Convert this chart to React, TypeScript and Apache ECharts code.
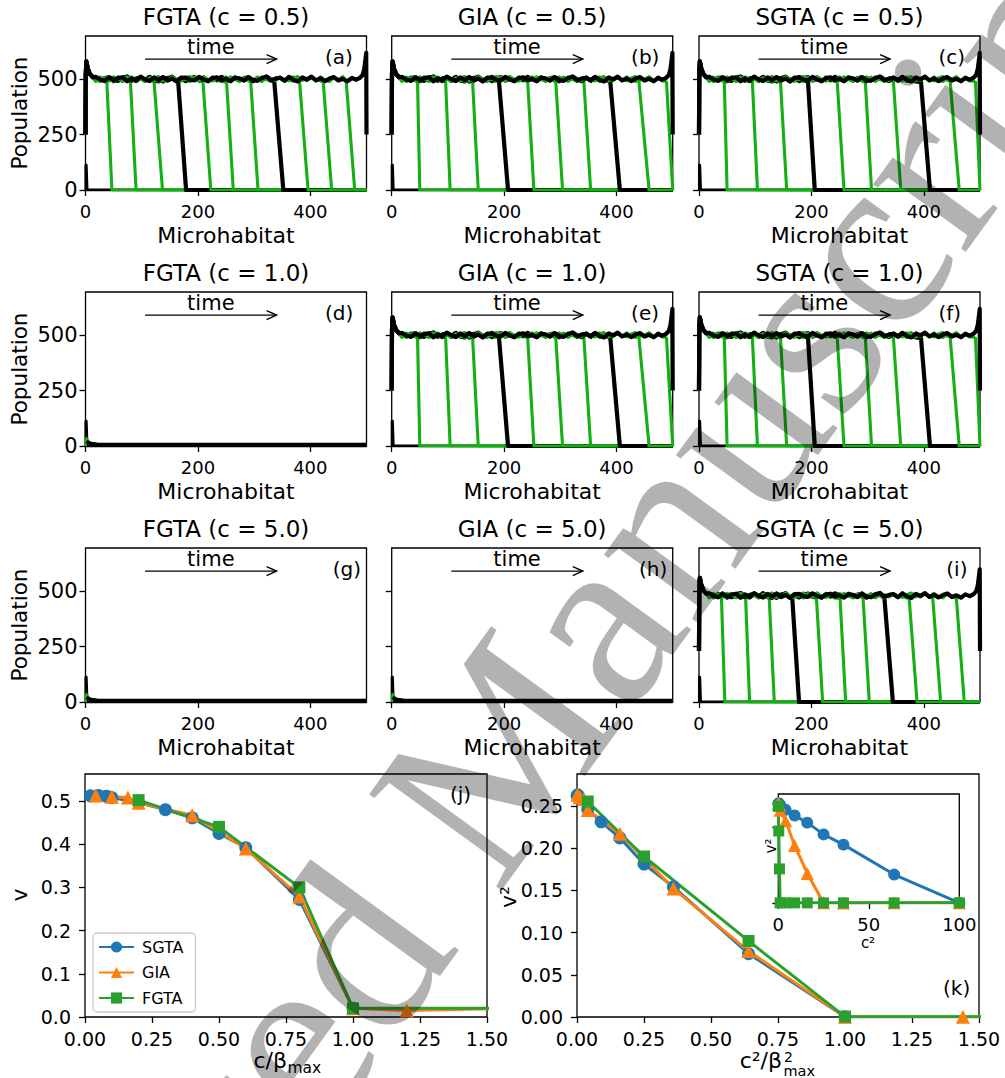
import React, { useEffect, useRef } from 'react';
import * as echarts from 'echarts';

const FONT = 'DejaVu Sans';
const SERIF = 'Liberation Serif';
const BLACK = '#000000';
const WAVE_GREEN = '#13b013';
const C_SGTA = '#1f77b4';
const C_GIA = '#ff7f0e';
const C_FGTA = '#2ca02c';

// ---------- small panels (a)-(i) ----------
const panelTitles = [
  'FGTA (c = 0.5)', 'GIA (c = 0.5)', 'SGTA (c = 0.5)',
  'FGTA (c = 1.0)', 'GIA (c = 1.0)', 'SGTA (c = 1.0)',
  'FGTA (c = 5.0)', 'GIA (c = 5.0)', 'SGTA (c = 5.0)',
];
const panelLetters = ['(a)', '(b)', '(c)', '(d)', '(e)', '(f)', '(g)', '(h)', '(i)'];
const microTicks = [0, 200, 400];
const populationTicks = [0, 250, 500];
const microMax = 500;
const populationMax = 694;

// wave fronts: [x at top of front, x at bottom of front]
const frontsA = [[38, 47], [80, 90], [122, 137], [165, 179], [209, 223], [251, 263], [294, 307], [336, 352], [381, 396], [423, 438], [464, 479]];
const frontsB = [[46, 50], [96, 104], [144, 154], [191, 207], [242, 253], [292, 304], [342, 354], [389, 406], [440, 458], [489, 500]];
const frontsC = [[45, 50], [95, 104], [145, 156], [194, 206], [246, 258], [296, 307], [346, 359], [395, 411], [447, 463], [492, 500]];
const frontsE = [[46, 50], [96, 104], [144, 154], [191, 207], [242, 253], [292, 304], [342, 354], [389, 406], [440, 458], [489, 500]];
const frontsF = [[45, 50], [95, 104], [145, 156], [194, 206], [246, 258], [296, 307], [346, 359], [395, 411], [447, 463], [492, 500]];
const frontsI = [[40, 46], [83, 90], [125, 134], [166, 178], [209, 220], [251, 261], [292, 303], [330, 345], [374, 388], [416, 430], [458, 472]];
const panelFronts = [frontsA, frontsB, frontsC, null, frontsE, frontsF, null, null, frontsI];
const plateauLevels = [500, 500, 500, 0, 500, 500, 0, 0, 480];

const plateauX = [
  18, 26, 34, 42, 50, 58, 66, 74, 82, 90, 98, 106, 114, 122, 130, 138, 146, 154, 162, 170,
  178, 186, 194, 202, 210, 218, 226, 234, 242, 250, 258, 266, 274, 282, 290, 298, 306, 314, 322, 330,
  338, 346, 354, 362, 370, 378, 386, 394, 402, 410, 418, 426, 434, 442, 450, 458, 466, 474, 482,
];
const plateauWiggle = [
  6, -8, 10, -4, -11, 7, -2, 11, -6, 3, -9, 2, 9, -7, 1, -10, 5, -3, 10, -2,
  -8, 7, -5, 4, 8, -10, 3, -6, 11, -1, -9, 6, -4, 9, -7, 2, -11, 5, 7, -3,
  -6, 10, -2, -9, 4, 8, -5, 1, -10, 6, 3, -7, 9, -4, -8, 5, 11, -6, 2,
];
const leftEdgeProfile = [[0, 250], [0.5, 520], [1.5, 580], [4, 548], [8, 522], [13, 508]];
const rightEdgeGreen = [[488, 504], [493, 515], [496, 535], [498.5, 570], [500, 260]];
const rightEdgeBlack = [[488, 505], [493, 518], [496, 545], [498.5, 595], [499.5, 618], [500, 250]];
const initialSpike = [[1, 0], [1, 112], [2, 112], [2.5, 0], [500, 0]];
const extinctGreen = [[0.5, 0], [1.5, 36], [3, 30], [6, 18], [12, 11], [25, 8], [60, 6], [500, 6]];
const extinctBlack = [[2, 22], [5, 15], [10, 11], [20, 8], [50, 7], [500, 7]];

// annotation positions (data coords of the small panels)
const arrowFrom = [106, 590];
const arrowTo = [340, 590];
const timeLabelAt = [223, 645];
const letterAtRows12 = [426, 600];
const letterAtRow3 = [440, 600];

// ---------- bottom panels (j), (k) and inset ----------
const cValues = [0.2, 0.5, 0.8, 1, 2, 3, 4, 5, 6, 8, 10];
const sgtaBetaMax = 10;
const giaBetaMax = 5;
const fgtaBetaMax = 1;
const sgtaV = [0.512, 0.513, 0.511, 0.508, 0.496, 0.48, 0.461, 0.425, 0.392, 0.272, 0.02];
const giaV = [0.513, 0.51, 0.508, 0.496, 0.467, 0.39, 0.279, 0.02, 0.015, 0.02, 0.02];
const fgtaV = [0.502, 0.44, 0.3, 0.02, 0.02, 0.02, 0.02, 0.02, 0.02, 0.02, 0.02];
const sgtaV2 = [0.262, 0.263, 0.261, 0.258, 0.246, 0.231, 0.212, 0.181, 0.154, 0.075, 0.0004];
const giaV2 = [0.263, 0.26, 0.258, 0.245, 0.217, 0.152, 0.078, 0.0004, 0.0002, 0.0004, 0.0004];
const fgtaV2 = [0.255, 0.19, 0.09, 0.0004, 0.0004, 0.0004, 0.0004, 0.0004, 0.0004, 0.0004, 0.0004];
const jXTicks = [0, 0.25, 0.5, 0.75, 1, 1.25, 1.5];
const jYTicks = [0, 0.1, 0.2, 0.3, 0.4, 0.5];
const kYTicks = [0, 0.05, 0.1, 0.15, 0.2, 0.25];
const insetXTicks = [0, 50, 100];
const insetYTicks = [0, 0.2];

function plateauPoints(level: number, limit: number, k: number) {
  const pts: number[][] = leftEdgeProfile.map(([x, y]) => [x, y + level - 500]);
  plateauX.forEach((x, i) => {
    if (x < limit) pts.push([x, level + plateauWiggle[(i + k * 7) % plateauWiggle.length]]);
  });
  return pts;
}
function frontSnapshot(level: number, front: number[], k: number) {
  const pts = plateauPoints(level, front[0] - 4, k);
  pts.push([front[0], level - 14], [front[1], 0]);
  if (front[1] < microMax) pts.push([microMax, 0]);
  return pts;
}
function edgeSnapshot(level: number, edge: number[][], k: number) {
  const pts = plateauPoints(level, edge[0][0] - 2, k);
  edge.forEach(([x, y]) => pts.push([x, y + level - 500]));
  return pts;
}

function buildOption() {
  const grids: any[] = [];
  const xAxes: any[] = [];
  const yAxes: any[] = [];
  const series: any[] = [];
  const graphics: any[] = [];
  const colLeft = [85.5, 391.7, 699];
  const colW = 281;
  const rowTop = [36, 292, 548];
  const rowH = 154;
  const GREEN_W = 3.1;
  const BLACK_W = 4.2;

  const lineSeries = (data: number[][], color: string, width: number, gi: number) => ({
    type: 'line', xAxisIndex: gi, yAxisIndex: gi, data, showSymbol: false, symbol: 'none',
    lineStyle: { color, width, join: 'round' }, itemStyle: { color }, silent: true, clip: true, z: 2,
  });

  for (let p = 0; p < 9; p++) {
    const r = Math.floor(p / 3);
    const c = p % 3;
    grids.push({
      left: colLeft[c], top: rowTop[r], width: colW, height: rowH, show: true,
      borderColor: '#000', borderWidth: 1.3, backgroundColor: 'transparent',
      containLabel: false, outerBoundsMode: 'none',
    });
    xAxes.push({
      gridIndex: p, type: 'value', min: 0, max: microMax,
      name: 'Microhabitat', nameLocation: 'middle', nameGap: 34,
      nameTextStyle: { fontSize: 22, color: '#000', fontFamily: FONT },
      axisLine: { show: false },
      axisTick: { show: true, length: 6, lineStyle: { color: '#000', width: 1.3 }, customValues: microTicks },
      axisLabel: { show: true, customValues: microTicks, fontSize: 18, color: '#000', margin: 12, fontFamily: FONT, hideOverlap: false },
      splitLine: { show: false },
    });
    yAxes.push({
      gridIndex: p, type: 'value', min: 0, max: populationMax,
      axisLine: { show: false },
      axisTick: { show: true, length: 6, lineStyle: { color: '#000', width: 1.3 }, customValues: populationTicks },
      axisLabel: { show: c === 0, customValues: populationTicks, fontSize: 21, color: '#000', margin: 8, fontFamily: FONT, hideOverlap: false },
      splitLine: { show: false },
    });

    const fronts = panelFronts[p];
    const level = plateauLevels[p];
    series.push(lineSeries(initialSpike, BLACK, 3.2, p));
    if (fronts) {
      fronts.forEach((f, k) => {
        const isBlack = k % 4 === 3;
        series.push(lineSeries(frontSnapshot(level, f, k), isBlack ? BLACK : WAVE_GREEN, isBlack ? BLACK_W : GREEN_W, p));
      });
      for (let k = fronts.length; k <= 11; k++) {
        const isBlack = k % 4 === 3;
        series.push(lineSeries(edgeSnapshot(level, isBlack ? rightEdgeBlack : rightEdgeGreen, k), isBlack ? BLACK : WAVE_GREEN, isBlack ? BLACK_W : GREEN_W, p));
      }
    } else {
      series.push(lineSeries(extinctGreen, WAVE_GREEN, 2.4, p));
      series.push(lineSeries(extinctBlack, BLACK, 3.6, p));
    }

    const letterAt = r === 2 ? letterAtRow3 : letterAtRows12;
    const letter = panelLetters[p];
    series.push({
      type: 'custom', xAxisIndex: p, yAxisIndex: p, silent: true, clip: false, z: 5,
      data: [[arrowFrom[0], arrowFrom[1], arrowTo[0], arrowTo[1], timeLabelAt[0], timeLabelAt[1], letterAt[0], letterAt[1]]],
      renderItem: (params: any, api: any) => {
        const a = api.coord([api.value(0), api.value(1)]);
        const b = api.coord([api.value(2), api.value(3)]);
        const t = api.coord([api.value(4), api.value(5)]);
        const l = api.coord([api.value(6), api.value(7)]);
        return {
          type: 'group',
          children: [
            { type: 'line', shape: { x1: a[0], y1: a[1], x2: b[0], y2: b[1] }, style: { stroke: '#000', lineWidth: 1.4 } },
            { type: 'polyline', shape: { points: [[b[0] - 10, b[1] - 4.5], [b[0], b[1]], [b[0] - 10, b[1] + 4.5]] }, style: { stroke: '#000', lineWidth: 1.4, fill: 'none' } },
            { type: 'text', x: t[0], y: t[1], style: { text: 'time', fontSize: 21, fontFamily: FONT, fill: '#000', textAlign: 'center', textVerticalAlign: 'middle', align: 'center', verticalAlign: 'middle' } },
            { type: 'text', x: l[0], y: l[1], style: { text: letter, fontSize: 20, fontFamily: FONT, fill: '#000', textAlign: 'left', textVerticalAlign: 'middle', align: 'left', verticalAlign: 'middle' } },
          ],
        };
      },
    });

    graphics.push({
      type: 'text', x: colLeft[c] + colW / 2, y: rowTop[r] - 19,
      style: { text: panelTitles[p], fontSize: 23, fontFamily: FONT, fill: '#000', textAlign: 'center', textVerticalAlign: 'middle' },
    });
    if (c === 0) {
      graphics.push({
        type: 'text', x: 19, y: rowTop[r] + rowH / 2, rotation: Math.PI / 2,
        style: { text: 'Population', fontSize: 21.5, fontFamily: FONT, fill: '#000', textAlign: 'center', textVerticalAlign: 'middle' },
      });
    }
  }

  // bottom grids
  const gJ = 9, gK = 10, gI = 11;
  grids.push({ left: 85, top: 774, width: 402, height: 243, show: true, borderColor: '#000', borderWidth: 1.3, backgroundColor: 'transparent', containLabel: false, outerBoundsMode: 'none' });
  grids.push({ left: 577, top: 774, width: 402, height: 243, show: true, borderColor: '#000', borderWidth: 1.3, backgroundColor: 'transparent', containLabel: false, outerBoundsMode: 'none' });
  grids.push({ left: 778.3, top: 794, width: 181, height: 109, show: true, borderColor: '#000', borderWidth: 1.3, backgroundColor: '#ffffff', containLabel: false, outerBoundsMode: 'none' });

  const tick = (vals: number[]) => ({ show: true, length: 6, lineStyle: { color: '#000', width: 1.3 }, customValues: vals });
  const lab = (vals: number[], dec: number, size: number, margin: number, show = true) => ({
    show, customValues: vals, fontSize: size, color: '#000', margin, fontFamily: FONT, hideOverlap: false,
    formatter: (v: number) => (dec < 0 ? String(v) : v.toFixed(dec)),
  });
  xAxes.push({ gridIndex: gJ, type: 'value', min: 0, max: 1.5, axisLine: { show: false }, axisTick: tick(jXTicks), axisLabel: lab(jXTicks, 2, 19, 12), splitLine: { show: false } });
  yAxes.push({ gridIndex: gJ, type: 'value', min: 0, max: 0.5625, axisLine: { show: false }, axisTick: tick(jYTicks), axisLabel: lab(jYTicks, 1, 19, 14), splitLine: { show: false } });
  xAxes.push({ gridIndex: gK, type: 'value', min: 0, max: 1.5, axisLine: { show: false }, axisTick: tick(jXTicks), axisLabel: lab(jXTicks, 2, 19, 12), splitLine: { show: false } });
  yAxes.push({ gridIndex: gK, type: 'value', min: 0, max: 0.2876, axisLine: { show: false }, axisTick: tick(kYTicks), axisLabel: lab(kYTicks, 2, 19, 14), splitLine: { show: false } });
  xAxes.push({ gridIndex: gI, type: 'value', min: 0, max: 100, axisLine: { show: false }, axisTick: tick(insetXTicks), axisLabel: lab(insetXTicks, -1, 18, 12), splitLine: { show: false } });
  yAxes.push({ gridIndex: gI, type: 'value', min: 0, max: 0.2876, axisLine: { show: false }, axisTick: tick(insetYTicks), axisLabel: lab(insetYTicks, 1, 18, 8, false), splitLine: { show: false } });

  const models = [
    { name: 'SGTA', color: C_SGTA, symbol: 'circle', size: 13, beta: sgtaBetaMax, v: sgtaV, v2: sgtaV2 },
    { name: 'GIA', color: C_GIA, symbol: 'triangle', size: 14, beta: giaBetaMax, v: giaV, v2: giaV2 },
    { name: 'FGTA', color: C_FGTA, symbol: 'rect', size: 12, beta: fgtaBetaMax, v: fgtaV, v2: fgtaV2 },
  ];
  const modelSeries = (m: any, gi: number, data: number[][], size: number) => ({
    type: 'line', name: m.name, xAxisIndex: gi, yAxisIndex: gi, data,
    symbol: m.symbol, symbolSize: size, showSymbol: true, showAllSymbol: true,
    lineStyle: { color: m.color, width: 3 }, itemStyle: { color: m.color, borderWidth: 0 },
    silent: true, clip: true, z: 3,
  });
  models.forEach((m) => {
    series.push(modelSeries(m, gJ, cValues.map((c, i) => [c / m.beta, m.v[i]]), m.size));
  });
  models.forEach((m) => {
    series.push(modelSeries(m, gK, cValues.map((c, i) => [(c / m.beta) * (c / m.beta), m.v2[i]]), m.size));
  });
  models.forEach((m) => {
    series.push(modelSeries(m, gI, cValues.map((c, i) => [c * c, m.v2[i]]), m.size - 1));
  });

  const txt = (text: string, x: number, y: number, size: number, align = 'left', rotation = 0) => ({
    type: 'text', x, y, rotation, z: 20,
    style: { text, fontSize: size, fontFamily: FONT, fill: '#000', textAlign: align, textVerticalAlign: 'middle' },
  });
  // (j) labels
  graphics.push(txt('c/β', 287, 1060, 22, 'right'));
  graphics.push(txt('max', 287.5, 1068, 15.5, 'left'));
  graphics.push(txt('v', 19, 895, 22, 'center', Math.PI / 2));
  graphics.push(txt('(j)', 450, 794, 20, 'left'));
  // (k) labels
  graphics.push(txt('c²/β', 782, 1060.4, 22, 'right'));
  graphics.push(txt('2', 784, 1056.5, 14, 'left'));
  graphics.push(txt('max', 783.5, 1070.5, 14.5, 'left'));
  graphics.push(txt('v²', 508, 897, 22, 'center', Math.PI / 2));
  graphics.push(txt('(k)', 943, 988, 20, 'left'));
  // inset labels
  graphics.push(txt('v²', 771, 846, 15, 'center', Math.PI / 2));
  graphics.push(txt('c²', 868, 943, 15, 'center'));

  // watermark
  const rot = (54 * Math.PI) / 180;
  graphics.push({
    type: 'text', x: 429, y: 846.6, rotation: rot, z: 100, silent: true,
    style: { text: 'Manuscript', fontSize: 250, fontFamily: SERIF, fill: 'rgba(0,0,0,0.3)', textAlign: 'left', textVerticalAlign: 'middle' },
  });
  graphics.push({
    type: 'text', x: 392.5, y: 897.6, rotation: rot, z: 100, silent: true,
    style: { text: 'Accepted', fontSize: 250, fontFamily: SERIF, fill: 'rgba(0,0,0,0.3)', textAlign: 'right', textVerticalAlign: 'middle' },
  });

  return {
    animation: false,
    backgroundColor: '#ffffff',
    textStyle: { fontFamily: FONT },
    grid: grids,
    xAxis: xAxes,
    yAxis: yAxes,
    series,
    legend: {
      data: ['SGTA', 'GIA', 'FGTA'], left: 93, top: 933, orient: 'vertical',
      itemWidth: 35, itemHeight: 14, itemGap: 9.5, padding: [6, 12, 6, 5],
      borderColor: '#cccccc', borderWidth: 1.3, borderRadius: 4, backgroundColor: 'rgba(255,255,255,0.8)',
      selectedMode: false, textStyle: { fontSize: 16, color: '#000', fontFamily: FONT, padding: [0, 0, 0, 3] },
    },
    graphic: { elements: graphics },
  };
}

export default function App() {
  const ref = useRef<HTMLDivElement>(null);
  useEffect(() => {
    document.body.style.margin = '0';
    if (!ref.current) return;
    const chart = echarts.init(ref.current, null, { renderer: 'svg' });
    chart.setOption(buildOption() as any);
    return () => chart.dispose();
  }, []);
  return <div ref={ref} style={{ width: 1005, height: 1078 }} />;
}
